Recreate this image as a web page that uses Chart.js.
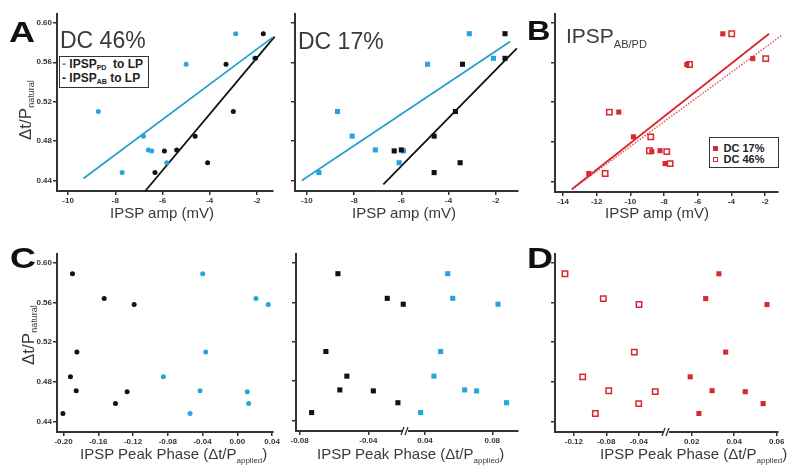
<!DOCTYPE html>
<html>
<head>
<meta charset="utf-8">
<script src="https://cdn.jsdelivr.net/npm/chart.js@4"></script>
<style>
  body { margin: 0; background: #fff; width: 800px; height: 475px; position: relative; overflow: hidden;
         font-family: "Liberation Sans", Arial, sans-serif; }
  canvas { position: absolute; }
  .t { position: absolute; white-space: nowrap; line-height: 1; color: #3a3a3a; z-index: 2; }
  .t sub { line-height: 0; vertical-align: -3px; }
  .letter { font-weight: bold; color: #111; transform-origin: 0 0; transform: scaleX(1.2); }
  .ytitle { font-size: 17px; transform-origin: 0 0; transform: rotate(-90deg); }
  .ytitle sub { font-size: 9px; }
  .xtitle { font-size: 15px; }
  .xtitle sub { font-size: 8px; vertical-align: -4px; }
  .box { position: absolute; box-sizing: border-box; border: 1.5px solid #333; background: #fff; z-index: 2;
         font-weight: bold; color: #222; white-space: nowrap; }
  .box sub { font-size: 7px; line-height: 0; vertical-align: -2px; }
  .mk { display: inline-block; width: 5px; height: 5px; margin-right: 6px; box-sizing: border-box; vertical-align: 1px; }
</style>
</head>
<body>
<canvas id="cA46" width="280" height="215" style="left:0;top:0"></canvas>
<canvas id="cA17" width="245" height="215" style="left:280px;top:0"></canvas>
<canvas id="cB" width="262" height="216" style="left:530px;top:0"></canvas>
<canvas id="cC46" width="280" height="216" style="left:0;top:240px"></canvas>
<canvas id="cC17" width="245" height="215" style="left:280px;top:240px"></canvas>
<canvas id="cD" width="262" height="216" style="left:530px;top:240px"></canvas>

<div class="t letter" style="left:9px;top:17px;font-size:30px">A</div>
<div class="t letter" style="left:527px;top:18px;font-size:27px">B</div>
<div class="t letter" style="left:10px;top:243px;font-size:30px">C</div>
<div class="t letter" style="left:527px;top:243px;font-size:30px">D</div>

<div class="t" style="left:60px;top:29px;font-size:23px">DC 46%</div>
<div class="t" style="left:298px;top:30px;font-size:23px">DC 17%</div>
<div class="t" style="left:566px;top:25px;font-size:21px">IPSP<sub style="font-size:11px;vertical-align:-5px">AB/PD</sub></div>

<div class="t ytitle" style="left:17px;top:140px">&Delta;t/P<sub>natural</sub></div>
<div class="t ytitle" style="left:20px;top:365px">&Delta;t/P<sub>natural</sub></div>

<div class="t xtitle" style="left:110px;top:205px">IPSP amp (mV)</div>
<div class="t xtitle" style="left:352px;top:205px">IPSP amp (mV)</div>
<div class="t xtitle" style="left:605px;top:205px">IPSP amp (mV)</div>
<div class="t xtitle" style="left:80px;top:446px">IPSP Peak Phase (&Delta;t/P<sub>applied</sub>)</div>
<div class="t xtitle" style="left:317px;top:446px">IPSP Peak Phase (&Delta;t/P<sub>applied</sub>)</div>
<div class="t xtitle" style="left:600px;top:446px">IPSP Peak Phase (&Delta;t/P<sub>applied</sub>)</div>

<div class="box" style="left:59px;top:56px;width:90px;height:32px;font-size:12px;line-height:14px;padding-left:2px">
  <div><span style="color:#27a4dc">-</span> IPSP<sub>PD</sub>&nbsp; to LP</div>
  <div>- IPSP<sub>AB</sub> to LP</div>
</div>
<div class="box" style="left:709px;top:137px;width:70px;height:31px;font-size:11px;line-height:11px;padding:5px 0 0 2.5px">
  <div><span class="mk" style="background:#d7282f"></span>DC 17%</div>
  <div><span class="mk" style="border:1.5px solid #d7282f;background:#fff"></span>DC 46%</div>
</div>

<script>
// y: Δt/P natural, one value per preparation (same order in every series)
const dtNatural = [0.589, 0.564, 0.558, 0.510, 0.485, 0.471, 0.470, 0.458, 0.448];
const yTicks = [0.44, 0.48, 0.52, 0.56, 0.60];

// A - IPSP amplitude (mV)
const ampPD46 = [-2.90, -2.10, -5.00, -8.72, -6.81, -6.60, -6.46, -5.82, -7.71];
const ampAB46 = [-1.73, -2.06, -3.31, -3.00, -4.62, -5.40, -5.92, -4.09, -6.32];
const ampPD17 = [-3.12, -2.10, -4.89, -8.70, -8.08, -7.10, -5.91, -6.09, -9.49];
const ampAB17 = [-1.61, -1.61, -3.41, -3.71, -4.61, -6.00, -6.30, -3.51, -4.61];
// B - combined AB/PD IPSP amplitude
const ampABPD17 = [-4.51, -2.73, -6.65, -10.69, -9.82, -8.24, -8.73, -7.94, -12.47];
const ampABPD46 = [-3.98, -1.96, -6.49, -11.25, -8.79, -8.87, -7.84, -7.64, -11.50];

// regression lines (end points)
const fitPD46x = [-9.35, -1.35], fitPD46y = [0.442, 0.585];
const fitAB46x = [-6.74, -1.25], fitAB46y = [0.429, 0.586];
const fitPD17x = [-10.21, -1.39], fitPD17y = [0.440, 0.581];
const fitAB17x = [-6.76, -1.11], fitAB17y = [0.436, 0.574];
const fitB17x = [-13.48, -1.76], fitB17y = [0.432, 0.589];
const fitB46x = [-13.47, -1.00], fitB46y = [0.432, 0.5876];

// C / D - IPSP peak phase (Δt/P applied)
const phaseAB46 = [-0.1897, -0.1532, -0.1187, -0.1846, -0.1920, -0.1854, -0.1268, -0.1402, -0.2007];
const phasePD46 = [-0.0398, 0.0215, 0.0356, -0.0363, -0.0851, -0.0429, 0.0115, 0.0131, -0.0544];
const phaseAB17 = [-0.0577, -0.0290, -0.0197, -0.0647, -0.0525, -0.0566, -0.0371, -0.0228, -0.0730];
const phasePD17 = [0.0535, 0.0565, 0.0834, 0.0493, 0.0453, 0.0636, 0.0707, 0.0885, 0.0374];
const phaseABPD46 = [-0.1309, -0.0837, -0.0397, -0.0455, -0.1091, -0.0770, -0.0197, -0.0401, -0.0935];
const phaseABPD17 = [0.0328, 0.0266, 0.0554, 0.0360, 0.0193, 0.0296, 0.0452, 0.0536, 0.0234];

const ticksAmpA = [-10, -8, -6, -4, -2];
const ticksAmpB = [-14, -12, -10, -8, -6, -4, -2];
const ticksPhaseC = [-0.20, -0.16, -0.12, -0.08, -0.04, 0.00, 0.04];
const ticksPhaseC17L = [-0.08, -0.04], ticksPhaseC17R = [0.04, 0.08];
const ticksPhaseDL = [-0.12, -0.08, -0.04], ticksPhaseDR = [0.02, 0.04, 0.06];

const AXIS = '#333';
const BLUE = '#27a4dc', BLUE_LINE = '#2a9ecf', BLACK = '#111', RED = '#d7282f', RED_DOT = '#e0585e';
const tickFont = { family: 'Liberation Sans', size: 8, weight: 'bold' };

const pts = (xs, ys) => xs.map((x, i) => ({ x: x, y: ys[i] }));

function yScale(width, showLabels) {
    return {
        type: 'linear', position: 'left', min: 0.4293, max: 0.609,
        afterBuildTicks: s => { s.ticks = yTicks.map(v => ({ value: v })); },
        afterFit: s => { s.width = width; s.paddingTop = 0; s.paddingBottom = 0; },
        border: { display: true, color: AXIS, width: 2 },
        grid: { drawOnChartArea: false, drawTicks: true, tickLength: 4, color: AXIS, lineWidth: 1.5 },
        ticks: { padding: 1, color: '#333', font: tickFont, callback: v => showLabels ? v.toFixed(2) : '' }
    };
}

function xScale(min, max, ticks, digits, extra) {
    return Object.assign({
        type: 'linear', position: 'bottom', min: min, max: max,
        afterBuildTicks: s => { s.ticks = ticks.map(v => ({ value: v })); },
        afterFit: s => { s.height = 24; s.paddingLeft = 0; s.paddingRight = 0; },
        border: { display: true, color: AXIS, width: 2 },
        grid: { drawOnChartArea: false, drawTicks: true, tickLength: 4, color: AXIS, lineWidth: 1.5 },
        ticks: { autoSkip: false, maxRotation: 0, padding: 1, color: '#333', font: tickFont,
                 callback: v => v.toFixed(digits) }
    }, extra || {});
}

function dots(xs, color, style, radius, xAxisID) {
    return { data: pts(xs, dtNatural), xAxisID: xAxisID || 'x', yAxisID: 'y',
             pointStyle: style, pointRadius: radius, backgroundColor: color, borderColor: color, borderWidth: 0 };
}
function openSquares(xs, xAxisID) {
    return { data: pts(xs, dtNatural), xAxisID: xAxisID || 'x', yAxisID: 'y',
             pointStyle: 'rect', pointRadius: 3.8, backgroundColor: '#fff', borderColor: RED, borderWidth: 1.5 };
}
function fitLine(xs, ys, color, dash) {
    return { data: pts(xs, ys), showLine: true, pointRadius: 0, borderColor: color,
             borderWidth: dash ? 1.5 : 1.8, borderDash: dash || [], clip: false, xAxisID: 'x', yAxisID: 'y' };
}

// the "//" mark where a broken x axis jumps
const axisBreak = {
    id: 'axisBreak',
    afterDraw(chart) {
        const xl = chart.scales.xl;
        if (!xl) return;
        const ctx = chart.ctx, bx = xl.right, by = chart.chartArea.bottom;
        ctx.save();
        ctx.fillStyle = '#fff';
        ctx.fillRect(bx - 3, by - 2, 5, 4);
        ctx.strokeStyle = AXIS;
        ctx.lineWidth = 1.3;
        ctx.beginPath();
        ctx.moveTo(bx - 5, by + 4); ctx.lineTo(bx - 2, by - 4);
        ctx.moveTo(bx - 1, by + 4); ctx.lineTo(bx + 2, by - 4);
        ctx.stroke();
        ctx.restore();
    }
};

function makeChart(id, datasets, scales, padRight) {
    return new Chart(document.getElementById(id), {
        type: 'scatter',
        data: { datasets: datasets },
        options: {
            responsive: false,
            animation: false,
            events: [],
            layout: { padding: { top: 14, right: padRight, left: 0, bottom: 0 } },
            plugins: { legend: { display: false }, tooltip: { enabled: false } },
            scales: scales
        },
        plugins: [axisBreak]
    });
}

// A - DC 46%
makeChart('cA46', [
    dots(ampAB46, BLACK, 'circle', 2.5),
    dots(ampPD46, BLUE, 'circle', 2.5),
    fitLine(fitPD46x, fitPD46y, BLUE_LINE),
    fitLine(fitAB46x, fitAB46y, BLACK)
], { x: xScale(-10.47, -1.32, ticksAmpA, 0), y: yScale(57, true) }, 7);

// A - DC 17%
makeChart('cA17', [
    dots(ampAB17, BLACK, 'rect', 3.6),
    dots(ampPD17, BLUE, 'rect', 3.6),
    fitLine(fitPD17x, fitPD17y, BLUE_LINE),
    fitLine(fitAB17x, fitAB17y, BLACK)
], { x: xScale(-10.5, -1.06, ticksAmpA, 0), y: yScale(15, false) }, 7);

// B - IPSP AB/PD
makeChart('cB', [
    dots(ampABPD17, RED, 'rect', 3.6),
    openSquares(ampABPD46),
    fitLine(fitB17x, fitB17y, RED),
    fitLine(fitB46x, fitB46y, RED_DOT, [1.5, 1.5])
], { x: xScale(-14.48, -1.23, ticksAmpB, 0), y: yScale(25, false) }, 14);

// C - DC 46% phase
makeChart('cC46', [
    dots(phaseAB46, BLACK, 'circle', 2.5),
    dots(phasePD46, BLUE, 'circle', 2.5)
], { x: xScale(-0.2075, 0.0411, ticksPhaseC, 2), y: yScale(57, true) }, 7);

// C - DC 17% phase (broken axis)
makeChart('cC17', [
    dots(phaseAB17, BLACK, 'rect', 3.6, 'xl'),
    dots(phasePD17, BLUE, 'rect', 3.6, 'xr')
], {
    xl: xScale(-0.0821, -0.0181, ticksPhaseC17L, 2, { stack: 'phase', stackWeight: 110 }),
    xr: xScale(0.0287, 0.0953, ticksPhaseC17R, 2, { stack: 'phase', stackWeight: 112 }),
    y: yScale(16, false)
}, 7);

// D - AB/PD phase (broken axis)
makeChart('cD', [
    dots(phaseABPD17, RED, 'rect', 3.6, 'xr'),
    openSquares(phaseABPD46, 'xl')
], {
    xl: xScale(-0.1432, -0.0052, ticksPhaseDL, 2, { stack: 'phase', stackWeight: 112 }),
    xr: xScale(0.0084, 0.0606, ticksPhaseDR, 2, { stack: 'phase', stackWeight: 111 }),
    y: yScale(25, false)
}, 14);
</script>
</body>
</html>
